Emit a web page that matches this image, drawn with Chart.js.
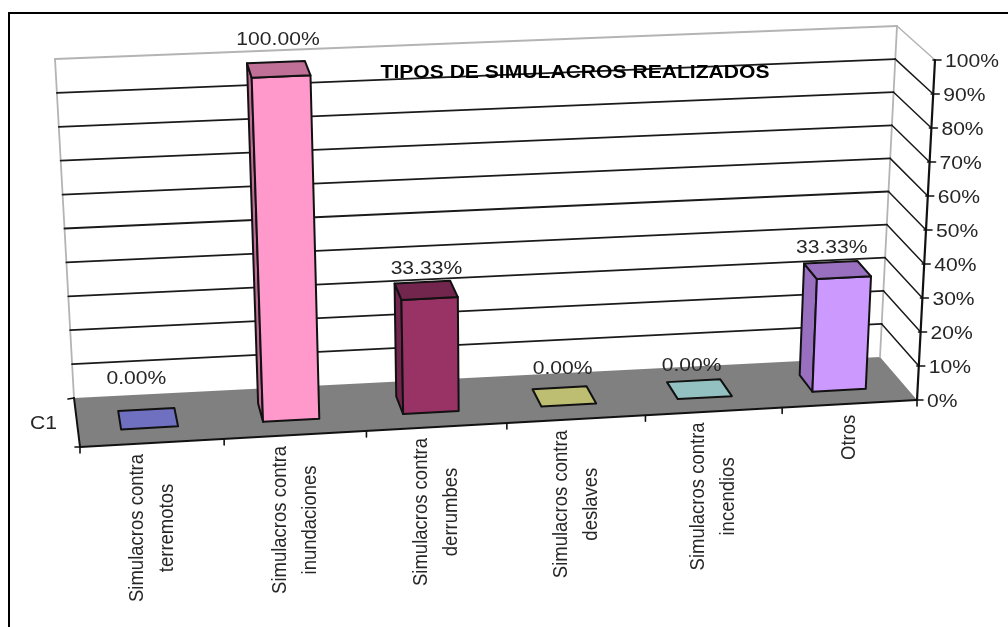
<!DOCTYPE html>
<html>
<head>
<meta charset="utf-8">
<title>Tipos de simulacros realizados</title>
<script src="https://cdn.jsdelivr.net/npm/chart.js@4"></script>
<style>
  html, body { margin: 0; padding: 0; background: #fff; }
  canvas { display: block; filter: blur(0.45px); }
</style>
</head>
<body>
<canvas id="chart" width="1008" height="627"></canvas>
<script>
/* Data */
const chartTitle = 'TIPOS DE SIMULACROS REALIZADOS';
const seriesName = 'C1';
const categories = [
  ['Simulacros contra', 'terremotos'],
  ['Simulacros contra', 'inundaciones'],
  ['Simulacros contra', 'derrumbes'],
  ['Simulacros contra', 'deslaves'],
  ['Simulacros contra', 'incendios'],
  ['Otros']
];
const percentages = [0, 100, 33.33, 0, 0, 33.33];
const frontColors = ['#9999ff', '#ff99cc', '#993366', '#ffff99', '#ccffff', '#cc99ff'];
const shadeColors = ['#7070c0', '#c06f96', '#73264d', '#bebe72', '#93c1c1', '#9970bf'];

// Setup
const FONT = '"Liberation Sans", Arial, sans-serif';
const TEXT_STRETCH = 1.14;   // the picture is wider than it is tall
const BAR_DEPTH = [0.31, 0.69];
// the 3d box on screen: [front, back] -> [bottom, top] -> [left, right]
const BOX = [
  [[[80, 447], [917, 400]], [[60, 98], [935, 60]]],
  [[[74, 398], [880, 357]], [[55, 59], [897, 26]]]
];
const LABEL_NUDGE = [[-10, -17], [2, -8], [4, 1], [3, -5], [-2, -1], [1, 0]];

function mix(a, b, t) {
  return [a[0] + (b[0] - a[0]) * t, a[1] + (b[1] - a[1]) * t];
}

// maps a point of the flat chart area plus a depth (0 front, 1 back) onto the box
function project(area, px, py, depth) {
  let u = (px - area.left) / area.width;
  const v = (area.bottom - py) / area.height;
  u = u + 0.04 * u * (1 - u);
  const plane = d => mix(
    mix(BOX[d][0][0], BOX[d][0][1], u),
    mix(BOX[d][1][0], BOX[d][1][1], u),
    v
  );
  return mix(plane(0), plane(1), depth);
}

function poly(ctx, pts, fill, stroke, width) {
  ctx.beginPath();
  pts.forEach((p, i) => i ? ctx.lineTo(p[0], p[1]) : ctx.moveTo(p[0], p[1]));
  ctx.closePath();
  if (fill) { ctx.fillStyle = fill; ctx.fill(); }
  if (stroke) { ctx.strokeStyle = stroke; ctx.lineWidth = width; ctx.stroke(); }
}

function line(ctx, a, b, color, width) {
  ctx.beginPath();
  ctx.moveTo(a[0], a[1]);
  ctx.lineTo(b[0], b[1]);
  ctx.strokeStyle = color;
  ctx.lineWidth = width;
  ctx.stroke();
}

function text(ctx, str, x, y, opts) {
  opts = opts || {};
  ctx.save();
  ctx.translate(x, y);
  ctx.scale(TEXT_STRETCH, 1);
  if (opts.vertical) ctx.rotate(-Math.PI / 2);
  ctx.font = (opts.bold ? 'bold ' : '') + '18.5px ' + FONT;
  ctx.textAlign = opts.align || 'center';
  ctx.textBaseline = 'middle';
  ctx.fillStyle = opts.color || '#262626';
  ctx.fillText(str, 0, 0);
  ctx.restore();
}

function quad(a, l, r, py, near, far) {
  return [
    project(a, l, py, near), project(a, r, py, near),
    project(a, r, py, far), project(a, l, py, far)
  ];
}

// Draws walls and floor under the bars, the 3d bars and all texts over them
const box3d = {
  id: 'box3d',
  beforeDatasetsDraw(chart) {
    const { ctx, chartArea: a, scales: { y } } = chart;
    ctx.save();
    ctx.lineCap = 'round';

    // outer frame
    line(ctx, [9, 627], [9, 13], '#000', 2);
    line(ctx, [9, 13], [1008, 13], '#000', 2);

    // floor
    poly(ctx, quad(a, a.left, a.right, a.bottom, 0, 1), '#808080');

    // walls
    line(ctx, project(a, a.left, a.bottom, 1), project(a, a.left, a.top, 1), '#b4b4b4', 1.8);
    line(ctx, project(a, a.right, a.bottom, 1), project(a, a.right, a.top, 1), '#b4b4b4', 1.8);
    y.ticks.forEach(t => {
      if (t.value === 0) return;
      const py = y.getPixelForValue(t.value);
      const color = t.value === 100 ? '#b4b4b4' : '#1a1a1a';
      line(ctx, project(a, a.left, py, 1), project(a, a.right, py, 1), color, 1.8);
      line(ctx, project(a, a.right, py, 1), project(a, a.right, py, 0), color, 1.5);
    });

    // floor edges and ticks
    line(ctx, project(a, a.left, a.bottom, 1), project(a, a.left, a.bottom, 0), '#111', 2);
    line(ctx, project(a, a.left, a.bottom, 0), project(a, a.right, a.bottom, 0), '#111', 2);
    const back = project(a, a.left, a.bottom, 1);
    line(ctx, [back[0] - 6, back[1] + 1], back, '#111', 1.6);
    const corner = project(a, a.left, a.bottom, 0);
    line(ctx, [corner[0] - 5, corner[1]], corner, '#111', 1.6);
    for (let i = 0; i <= categories.length; i++) {
      const px = a.left + a.width * i / categories.length;
      const p = project(a, px, a.bottom, 0);
      line(ctx, p, [p[0], p[1] + 6], '#111', 1.6);
    }

    // value axis
    line(ctx, project(a, a.right, a.bottom, 0), project(a, a.right, a.top, 0), '#111', 2.2);
    y.ticks.forEach(t => {
      const p = project(a, a.right, y.getPixelForValue(t.value), 0);
      line(ctx, [p[0] - 2, p[1]], [p[0] + 6, p[1]], '#111', 1.6);
    });
    ctx.restore();
  },
  afterDatasetsDraw(chart) {
    const { ctx, chartArea: a, scales: { x, y } } = chart;
    const bars = chart.getDatasetMeta(0).data;
    ctx.save();
    ctx.lineJoin = 'round';

    bars.forEach((bar, i) => {
      const l = bar.x - bar.width / 2, r = bar.x + bar.width / 2;
      const [near, far] = BAR_DEPTH;
      if (percentages[i] > 0) {
        // side face, then front face
        poly(ctx, [
          project(a, l, a.bottom, near), project(a, l, a.bottom, far),
          project(a, l, bar.y, far), project(a, l, bar.y, near)
        ], shadeColors[i], '#111', 2);
        poly(ctx, [
          project(a, l, a.bottom, near), project(a, r, a.bottom, near),
          project(a, r, bar.y, near), project(a, l, bar.y, near)
        ], frontColors[i], '#111', 2);
      }
      poly(ctx, quad(a, l, r, bar.y, near, far), shadeColors[i], '#111', 2);

      // value above the bar
      const anchor = project(a, bar.x, bar.y, far);
      text(ctx, percentages[i].toFixed(2) + '%',
        anchor[0] + LABEL_NUDGE[i][0], anchor[1] - 14 + LABEL_NUDGE[i][1]);
    });

    // category labels, standing under the front edge
    chart.data.labels.forEach((lines, i) => {
      const p = project(a, x.getPixelForValue(i), a.bottom, 0);
      ctx.font = '18.5px ' + FONT;
      const len = Math.max(...lines.map(s => ctx.measureText(s).width));
      lines.forEach((s, k) => {
        const off = (k - (lines.length - 1) / 2) * 30;
        text(ctx, s, p[0] - 0.5 + off, p[1] + 11 + len / 2, { vertical: true });
      });
    });

    // value axis labels
    y.ticks.forEach(t => {
      const p = project(a, a.right, y.getPixelForValue(t.value), 0);
      text(ctx, t.label, p[0] + 10, p[1] + 1.5, { align: 'left' });
    });

    // series name and title
    const edge = mix(project(a, a.left, a.bottom, 0), project(a, a.left, a.bottom, 1), 0.5);
    text(ctx, seriesName, edge[0] - 20, edge[1] + 1, { align: 'right' });
    text(ctx, chartTitle, 575, 73, { bold: true, color: '#000' });
    ctx.restore();
  }
};

// Config
const config = {
  type: 'bar',
  data: {
    labels: categories,
    datasets: [{
      label: seriesName,
      data: percentages,
      backgroundColor: 'transparent',
      borderWidth: 0,
      categoryPercentage: 1,
      barPercentage: 0.4
    }]
  },
  options: {
    responsive: false,
    animation: false,
    layout: { padding: { left: 80, right: 91, top: 60, bottom: 227 } },
    plugins: { legend: { display: false }, tooltip: { enabled: false } },
    scales: {
      x: { display: false, offset: true },
      y: {
        display: false,
        min: 0,
        max: 100,
        ticks: { stepSize: 10, callback: v => v + '%' }
      }
    }
  },
  plugins: [box3d]
};

// Chart Activation
let ctx = document.getElementById('chart').getContext('2d');
let simulacrosChart = new Chart(ctx, config);
</script>
</body>
</html>
